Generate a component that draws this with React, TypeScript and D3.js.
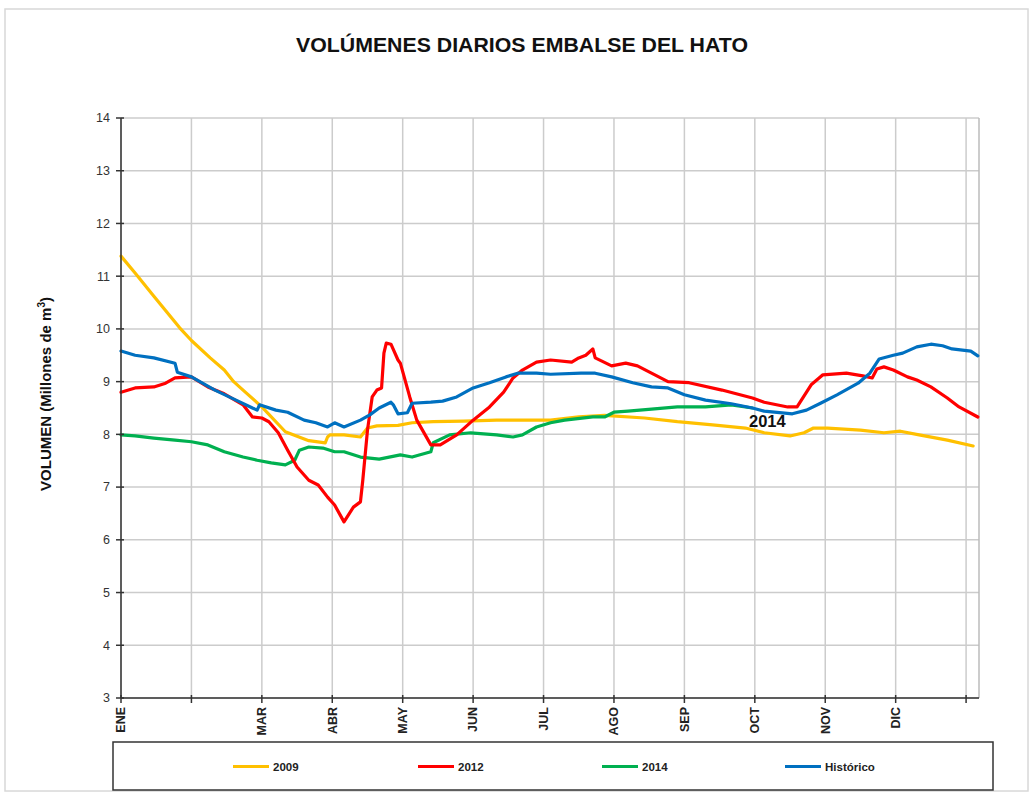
import React from 'react';
import * as d3 from 'd3';

// days since 1 Jan and volumes (millions of m3)
const DAYS_2009 = [0, 6, 14, 25, 30, 38, 44, 48, 52, 60, 70, 80, 87, 88, 89, 95, 102, 105, 109, 118, 124, 133, 146, 160, 174, 183, 195, 206, 223, 237, 252, 266, 274, 285, 291, 295, 301, 315, 325, 332, 340, 352, 363];
const VOL_2009 = [11.38, 11.06, 10.62, 10.02, 9.78, 9.45, 9.22, 9.0, 8.84, 8.52, 8.05, 7.88, 7.84, 7.95, 7.99, 7.99, 7.95, 8.12, 8.16, 8.17, 8.22, 8.24, 8.25, 8.27, 8.27, 8.27, 8.33, 8.36, 8.31, 8.24, 8.18, 8.12, 8.03, 7.97, 8.03, 8.12, 8.12, 8.08, 8.03, 8.06, 7.99, 7.89, 7.78];

const DAYS_2012 = [0, 6, 14, 19, 23, 30, 37, 44, 52, 56, 60, 63, 67, 71, 75, 80, 84, 88, 91, 95, 99, 102, 103, 105, 107, 109, 111, 112, 113, 115, 118, 119, 123, 126, 132, 136, 143, 150, 157, 163, 167, 171, 177, 183, 192, 195, 198, 201, 202, 209, 215, 220, 233, 242, 256, 269, 274, 284, 288, 294, 299, 309, 316, 320, 322, 325, 329, 335, 339, 345, 352, 357, 365];
const VOL_2012 = [8.80, 8.88, 8.90, 8.97, 9.07, 9.09, 8.90, 8.77, 8.56, 8.33, 8.31, 8.24, 8.03, 7.70, 7.38, 7.13, 7.04, 6.81, 6.66, 6.34, 6.62, 6.72, 7.13, 8.08, 8.71, 8.84, 8.88, 9.54, 9.73, 9.71, 9.41, 9.35, 8.71, 8.27, 7.80, 7.80, 7.99, 8.27, 8.52, 8.80, 9.07, 9.22, 9.37, 9.41, 9.37, 9.45, 9.50, 9.62, 9.45, 9.30, 9.35, 9.30, 9.00, 8.98, 8.84, 8.69, 8.61, 8.52, 8.52, 8.94, 9.13, 9.16, 9.11, 9.07, 9.24, 9.28, 9.22, 9.09, 9.03, 8.90, 8.69, 8.52, 8.33];

const DAYS_2014 = [0, 6, 14, 23, 30, 37, 44, 52, 58, 64, 70, 74, 76, 80, 86, 91, 95, 102, 110, 119, 124, 132, 133, 140, 149, 160, 167, 171, 177, 183, 189, 201, 206, 210, 216, 226, 237, 249, 260, 269];
const VOL_2014 = [7.99, 7.97, 7.93, 7.89, 7.86, 7.80, 7.67, 7.57, 7.51, 7.46, 7.42, 7.51, 7.70, 7.76, 7.74, 7.67, 7.67, 7.57, 7.53, 7.61, 7.57, 7.67, 7.84, 7.99, 8.03, 7.99, 7.95, 7.99, 8.14, 8.22, 8.27, 8.33, 8.33, 8.42, 8.44, 8.48, 8.52, 8.52, 8.56, 8.50];

const DAYS_HIST = [0, 6, 14, 23, 24, 30, 40, 49, 56, 58, 59, 66, 71, 78, 83, 88, 91, 95, 102, 106, 110, 115, 116, 118, 122, 124, 132, 137, 143, 150, 157, 164, 169, 177, 183, 196, 202, 209, 218, 226, 233, 240, 249, 260, 269, 274, 286, 292, 298, 305, 314, 319, 323, 329, 333, 339, 345, 350, 354, 362, 365];
const VOL_HIST = [9.58, 9.50, 9.45, 9.35, 9.18, 9.09, 8.84, 8.65, 8.50, 8.46, 8.56, 8.46, 8.42, 8.27, 8.22, 8.14, 8.22, 8.14, 8.27, 8.37, 8.50, 8.61, 8.56, 8.39, 8.41, 8.59, 8.61, 8.63, 8.71, 8.88, 8.98, 9.09, 9.16, 9.16, 9.14, 9.16, 9.16, 9.09, 8.98, 8.90, 8.88, 8.75, 8.65, 8.58, 8.50, 8.44, 8.39, 8.46, 8.59, 8.75, 8.97, 9.16, 9.43, 9.50, 9.54, 9.66, 9.71, 9.68, 9.62, 9.58, 9.49];

const MONTH_TICKS = [0, 30, 60, 90, 120, 150, 180, 210, 240, 270, 300, 330, 360];
const MONTH_LABELS = ['ENE', '', 'MAR', 'ABR', 'MAY', 'JUN', 'JUL', 'AGO', 'SEP', 'OCT', 'NOV', 'DIC', ''];
const Y_TICKS = [3, 4, 5, 6, 7, 8, 9, 10, 11, 12, 13, 14];

const SERIES = [
  { name: '2009', days: DAYS_2009, vals: VOL_2009, color: '#FFC000' },
  { name: '2014', days: DAYS_2014, vals: VOL_2014, color: '#00B050' },
  { name: '2012', days: DAYS_2012, vals: VOL_2012, color: '#FF0000' },
  { name: 'Histórico', days: DAYS_HIST, vals: VOL_HIST, color: '#0070C0' },
];
const LEGEND = ['2009', '2012', '2014', 'Histórico'];
const LEGEND_COLORS = ['#FFC000', '#FF0000', '#00B050', '#0070C0'];
const LEGEND_X = [233, 418, 602, 785];

const FONT = "'Liberation Sans', Arial, sans-serif";

export default function App() {
  const W = 1034, H = 793;
  const left = 121, right = 979, top = 118, bottom = 698;

  const x = d3.scaleLinear().domain([0, 365.5]).range([left, right]);
  const y = d3.scaleLinear().domain([3, 14]).range([bottom, top]);

  const line = d3.line<[number, number]>()
    .x(d => x(d[0]))
    .y(d => y(d[1]));

  return (
    <svg width={W} height={H} style={{ position: 'absolute', left: 0, top: 0, background: '#fff' }}
      fontFamily={FONT}>
      <rect x={5} y={9} width={1023} height={782} fill="#fff" stroke="#d8d8d8" strokeWidth={1.5} />

      <text x={522} y={52} textAnchor="middle" fontSize={21} fontWeight="bold" fill="#111"
        fontFamily="'Liberation Sans Narrow', 'Liberation Sans', Arial, sans-serif"
        textLength={452} lengthAdjust="spacingAndGlyphs">
        VOLÚMENES DIARIOS EMBALSE DEL HATO
      </text>

      {/* grid */}
      {Y_TICKS.map(t => (
        <line key={'gy' + t} x1={left} x2={right} y1={y(t)} y2={y(t)} stroke="#cccccc" strokeWidth={1.5} />
      ))}
      {MONTH_TICKS.map(t => (
        <line key={'gx' + t} x1={x(t)} x2={x(t)} y1={top} y2={bottom} stroke="#cccccc" strokeWidth={1.5} />
      ))}
      <line x1={right} x2={right} y1={top} y2={bottom} stroke="#bbbbbb" strokeWidth={1.5} />

      {/* series */}
      {SERIES.map(s => (
        <path key={s.name}
          d={line(s.days.map((d, i) => [d, s.vals[i]] as [number, number])) || ''}
          fill="none" stroke={s.color} strokeWidth={3.2} strokeLinejoin="round" strokeLinecap="round" />
      ))}

      {/* axes */}
      <line x1={left} x2={left} y1={top} y2={bottom} stroke="#333" strokeWidth={1.5} />
      <line x1={left} x2={right} y1={bottom} y2={bottom} stroke="#333" strokeWidth={1.5} />
      {Y_TICKS.map(t => (
        <g key={'ty' + t}>
          <line x1={left - 5} x2={left + 3} y1={y(t)} y2={y(t)} stroke="#333" strokeWidth={1.5} />
          <text x={110} y={y(t)} dy="0.35em" textAnchor="end" fontSize={12.5} fill="#333">{t}</text>
        </g>
      ))}
      {MONTH_TICKS.map((t, i) => (
        <g key={'tx' + t}>
          <line x1={x(t)} x2={x(t)} y1={bottom - 3} y2={bottom + 5} stroke="#333" strokeWidth={1.5} />
          <text transform={`translate(${x(t)},707) rotate(-90)`} dy="0.35em" textAnchor="end"
            fontSize={12.5} fontWeight="bold" fill="#222">{MONTH_LABELS[i]}</text>
        </g>
      ))}

      <text transform="translate(51,394) rotate(-90)" textAnchor="middle" fontSize={15} fontWeight="bold" fill="#111">
        VOLUMEN (Millones de m<tspan dy={-6} fontSize={10}>3</tspan><tspan dy={6}>)</tspan>
      </text>

      <text x={749} y={427} fontSize={16.5} fontWeight="bold" fill="#111">2014</text>

      {/* legend */}
      <rect x={113} y={742} width={880} height={48} fill="#fff" stroke="#333" strokeWidth={1.5} />
      {LEGEND.map((n, i) => (
        <g key={'lg' + n}>
          <line x1={LEGEND_X[i]} x2={LEGEND_X[i] + 36} y1={766.5} y2={766.5} stroke={LEGEND_COLORS[i]} strokeWidth={3} />
          <text x={LEGEND_X[i] + 40} y={766.5} dy="0.35em" fontSize={11.5} fontWeight="bold" fill="#222">{n}</text>
        </g>
      ))}
    </svg>
  );
}
